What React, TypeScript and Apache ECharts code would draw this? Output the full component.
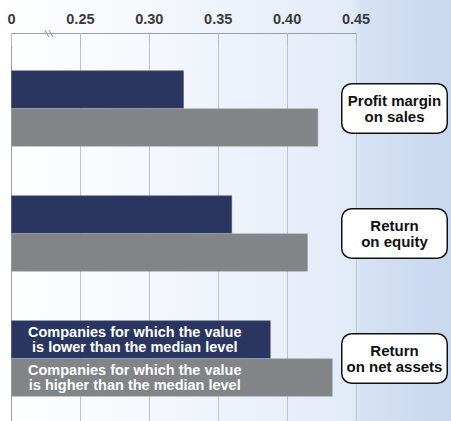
import React, { useEffect, useRef } from 'react';
import * as echarts from 'echarts';

// categories, top to bottom
const categories = ['Profit margin\non sales', 'Return\non equity', 'Return\non net assets'];
// companies below / above the median level
const lowerValues = [0.325, 0.36, 0.388];
const higherValues = [0.4225, 0.415, 0.433];
const lowerName = 'Companies for which the value\nis lower than the median level';
const higherName = 'Companies for which the value\nis higher than the median level';
// axis ticks (0.20 is shown as "0", the axis is broken)
const tickMin = 0.2;
const tickMax = 0.45;
const tickStep = 0.05;

const FONT = '"Liberation Sans", Arial, sans-serif';

const App: React.FC = () => {
  const chartRef = useRef<HTMLDivElement>(null);

  useEffect(() => {
    if (!chartRef.current) return;
    const chart = echarts.init(chartRef.current, undefined, { renderer: 'svg' });

    const barLabel = (text: string) => ({
      show: true,
      formatter: text,
      position: [123.5, '50%'],
      align: 'center',
      verticalAlign: 'middle',
      color: '#ffffff',
      fontFamily: FONT,
      fontWeight: 'bold',
      fontSize: 14.5,
      lineHeight: 15
    });

    const last = categories.length - 1;

    const option = {
      animation: false,
      backgroundColor: {
        type: 'linear',
        x: 0, y: 0, x2: 1, y2: 0,
        colorStops: [
          { offset: 0, color: '#ffffff' },
          { offset: 0.3, color: '#f6f9fd' },
          { offset: 0.78, color: '#e3ebf8' },
          { offset: 0.8, color: '#d6e2f4' },
          { offset: 1, color: '#c8d7ef' }
        ]
      },
      grid: { left: 11.5, top: 46, width: 344.5, height: 379.5, containLabel: false },
      xAxis: {
        type: 'value',
        position: 'top',
        offset: 13,
        min: tickMin,
        max: tickMax,
        interval: tickStep,
        axisLine: { show: true, lineStyle: { color: '#9a9da2', width: 1 } },
        axisTick: { show: true, inside: true, length: 13, lineStyle: { color: '#b8bcc2' } },
        splitLine: { show: true, lineStyle: { color: '#bfc3c8', width: 1 } },
        axisLabel: {
          margin: 7,
          fontFamily: FONT,
          fontWeight: 'bold',
          fontSize: 14.5,
          color: '#3a3a3a',
          formatter: (v: number) => (v < tickMin + 0.001 ? '0' : v.toFixed(2))
        }
      },
      yAxis: [
        {
          type: 'category',
          data: categories,
          inverse: true,
          position: 'left',
          axisLine: { show: true, lineStyle: { color: '#9a9da2' } },
          axisTick: { show: false },
          axisLabel: { show: false }
        },
        {
          type: 'category',
          data: categories,
          inverse: true,
          position: 'right',
          axisLine: { show: false },
          axisTick: { show: false },
          axisLabel: {
            margin: 38.5,
            align: 'center',
            verticalAlign: 'middle',
            width: 104,
            height: 48,
            backgroundColor: '#ffffff',
            borderColor: '#111111',
            borderWidth: 1.5,
            borderRadius: 9,
            fontFamily: FONT,
            fontWeight: 'bold',
            fontSize: 15,
            lineHeight: 16,
            color: '#111111'
          }
        }
      ],
      series: [
        {
          name: 'lower',
          type: 'bar',
          yAxisIndex: 0,
          barWidth: 38,
          barGap: '0%',
          itemStyle: { color: '#2b3660', borderColor: '#4a5478', borderWidth: 0.5 },
          data: lowerValues.map((v, i) => (i === last ? { value: v, label: barLabel(lowerName) } : v))
        },
        {
          name: 'higher',
          type: 'bar',
          yAxisIndex: 0,
          barWidth: 38,
          barGap: '0%',
          itemStyle: { color: '#818587', borderColor: '#9a9ea0', borderWidth: 0.5 },
          data: higherValues.map((v, i) => (i === last ? { value: v, label: barLabel(higherName) } : v))
        }
      ],
      graphic: [
        { type: 'rect', shape: { x: 43, y: 29, width: 11, height: 9 }, style: { fill: '#ffffff' } },
        { type: 'line', shape: { x1: 44, y1: 33, x2: 45, y2: 33 }, style: { stroke: '#9a9da2', lineWidth: 1 } },
        { type: 'line', shape: { x1: 45, y1: 30, x2: 49, y2: 37 }, style: { stroke: '#8a8d92', lineWidth: 1 } },
        { type: 'line', shape: { x1: 49, y1: 30, x2: 53, y2: 37 }, style: { stroke: '#8a8d92', lineWidth: 1 } }
      ]
    };

    chart.setOption(option);
    return () => {
      chart.dispose();
    };
  }, []);

  return (
    <div
      ref={chartRef}
      style={{ position: 'absolute', left: 0, top: 0, width: '451px', height: '421px' }}
    />
  );
};

export default App;
